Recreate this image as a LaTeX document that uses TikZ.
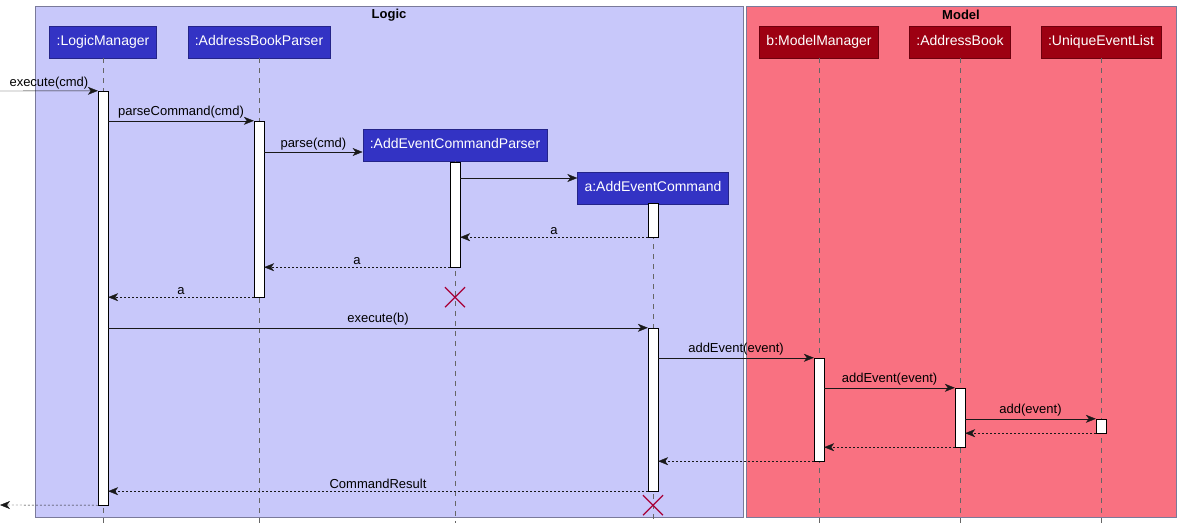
\documentclass[tikz,border=0pt]{standalone}
\usepackage{fontspec}
\setmainfont{Liberation Sans}
\usetikzlibrary{arrows.meta,calc}
\definecolor{logicBg}{HTML}{C8C8FA}
\definecolor{modelBg}{HTML}{F97181}
\definecolor{logicPart}{HTML}{3333C4}
\definecolor{modelPart}{HTML}{9D0012}
\definecolor{frameLine}{HTML}{7A7A9A}
\definecolor{killRed}{HTML}{A80036}
\tikzset{x=1pt, y=-1pt,
    partL/.style={fill=logicPart, draw=logicPart!70!black, text=white,
        minimum height=32, inner xsep=7, text height=11, text depth=3,
        font=\fontsize{14}{16}\selectfont},
    partM/.style={partL, fill=modelPart, draw=modelPart!70!black},
    life/.style={draw=black!60, dash pattern=on 5pt off 5pt},
    act/.style={draw=black, fill=white, minimum width=10, inner sep=0},
    msg/.style={draw=black!90, -{Stealth[length=10pt, width=8pt, inset=3pt]}},
    ret/.style={msg, dash pattern=on 2pt off 2pt},
    lbl/.style={above, inner sep=2pt, font=\fontsize{13}{15}\selectfont},
    kill/.style={draw=killRed, line width=1.3pt},
    }
\begin{document}
\begin{tikzpicture}
	\useasboundingbox (0,0) rectangle (1180,529);
	% boxes
	\draw[fill=logicBg, draw=frameLine] (35,6) rectangle (743,517);
	\draw[fill=modelBg, draw=frameLine] (746,6) rectangle (1176,517);
	\node[font=\bfseries\fontsize{13}{15}\selectfont] (logicT) at (389,15) {Logic};
	\node[font=\bfseries\fontsize{13}{15}\selectfont] (modelT) at (961,15) {Model};
	% participants
	\node[partL] (lm) at (103,42) {:LogicManager};
	\node[partL] (abp) at (259,42) {:AddressBookParser};
	\node[partL] (aecp) at (455,145) {:AddEventCommandParser};
	\node[partL] (aec) at (653,188) {a:AddEventCommand};
	\node[partM] (mm) at (819,42) {b:ModelManager};
	\node[partM] (ab) at (960,42) {:AddressBook};
	\node[partM] (uel) at (1101,42) {:UniqueEventList};
	\foreach \p in {lm,abp,aecp,aec,mm,ab,uel}
		\draw[life] (\p.south) -- (\p.south |- 0,523);
	% activations
	\node[act, minimum height=414] (lmA) at (103,298) {};
	\node[act, minimum height=176] (abpA) at (259,209) {};
	\node[act, minimum height=105] (aecpA) at (455,214.5) {};
	\node[act, minimum height=34] (aecA1) at (653,220) {};
	\node[act, minimum height=163] (aecA2) at (653,409.5) {};
	\node[act, minimum height=103] (mmA) at (819,409.5) {};
	\node[act, minimum height=59] (abA) at (960,417.5) {};
	\node[act, minimum height=14] (uelA) at (1101,426) {};
	\coordinate (inL) at (0,91);
	\coordinate (outL) at (0,505);
	% calls
	\draw[msg] (inL) -- (lmA.north west) node[lbl, midway] {execute(cmd)};
	\draw[msg] (lmA.east |- abpA.north) -- (abpA.north west) node[lbl, midway] {parseCommand(cmd)};
	\draw[msg] (abpA.east |- 0,152) -- (aecp.west |- 0,152) node[lbl, midway] {parse(cmd)};
	\draw[msg] (aecpA.east |- 0,178) -- (aec.west |- 0,178);
	\draw[ret] (aecA1.south west) -- (aecpA.east |- aecA1.south) node[lbl, midway] {a};
	\draw[ret] (aecpA.south west) -- (abpA.east |- aecpA.south) node[lbl, midway] {a};
	\draw[ret] (abpA.south west) -- (lmA.east |- abpA.south) node[lbl, midway] {a};
	\draw[msg] (lmA.east |- aecA2.north) -- (aecA2.north west) node[lbl, midway] {execute(b)};
	\draw[msg] (aecA2.east |- mmA.north) -- (mmA.north west) node[lbl, midway] {addEvent(event)};
	\draw[msg] (mmA.east |- abA.north) -- (abA.north west) node[lbl, midway] {addEvent(event)};
	\draw[msg] (abA.east |- uelA.north) -- (uelA.north west) node[lbl, midway] {add(event)};
	% returns
	\draw[ret] (uelA.south west) -- (abA.east |- uelA.south);
	\draw[ret] (abA.south west) -- (mmA.east |- abA.south);
	\draw[ret] (mmA.south west) -- (aecA2.east |- mmA.south);
	\draw[ret] (aecA2.south west) -- (lmA.east |- aecA2.south) node[lbl, midway] {CommandResult};
	\draw[ret] (lmA.south west) -- (outL);
	% destroyed
	\draw[kill] ($(aecpA.south)+(-10,20)$) -- +(20,20);
	\draw[kill] ($(aecpA.south)+(10,20)$) -- +(-20,20);
	\draw[kill] ($(aecA2.south)+(-10,4)$) -- +(20,20);
	\draw[kill] ($(aecA2.south)+(10,4)$) -- +(-20,20);
\end{tikzpicture}
\end{document}
